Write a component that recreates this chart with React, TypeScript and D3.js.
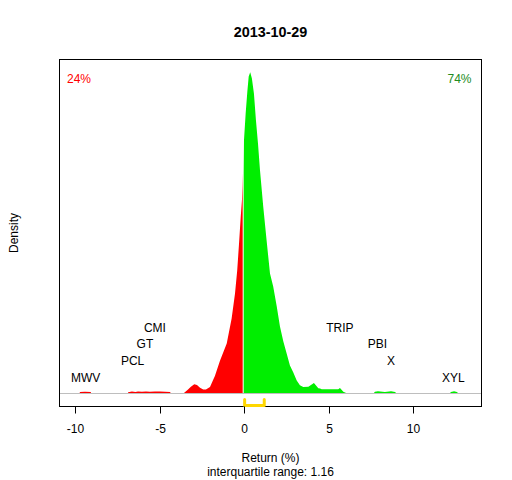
import * as d3 from "d3";

// density estimate of daily returns (x in %, density)
const gridX = [
  -10.02, -9.78, -9.73, -9.44, -9.1, -9.05, -6.92, -6.88, -6.66, -6.45, -6.3, -6.07, -5.83, -5.59, -5.3, -5.0, -4.7,
  -4.4, -4.35, -3.62, -3.58, -3.34, -3.17, -2.97, -2.81, -2.63, -2.44, -2.28, -2.04, -1.85, -1.75, -1.45, -1.05, -0.76,
  -0.56, -0.43, -0.33, -0.22, -0.15, -0.11, -0.03, 0.07, 0.17, 0.25, 0.34, 0.44, 0.56, 0.68, 0.8, 0.92, 1.11, 1.31,
  1.51, 1.7, 1.91, 2.1, 2.3, 2.5, 2.69, 2.89, 3.09, 3.28, 3.48, 3.78, 4.11, 4.37, 4.47, 4.57, 5.06, 5.55, 5.65, 5.85,
  6.11, 7.62, 7.72, 7.9, 8.31, 8.67, 8.91, 9.01, 12.12, 12.22, 12.4, 12.57, 12.68, 13.1,
];
const gridDensity = [
  0, 0, 0.003, 0.0034, 0.003, 0, 0, 0.0026, 0.0037, 0.0029, 0.0037, 0.0034, 0.0037, 0.0034, 0.0037, 0.0037, 0.0034,
  0.0029, 0, 0, 0.0009, 0.0069, 0.012, 0.0159, 0.0146, 0.0103, 0.0069, 0.0069, 0.0115, 0.024, 0.03, 0.0565, 0.0857,
  0.1285, 0.1713, 0.2107, 0.2535, 0.3032, 0.3306, 0.3563, 0.4334, 0.4796, 0.5173, 0.543, 0.55, 0.5396, 0.5139, 0.4676,
  0.4283, 0.382, 0.3203, 0.2621, 0.2056, 0.1833, 0.149, 0.1148, 0.0891, 0.0685, 0.048, 0.036, 0.0223, 0.0142, 0.0115,
  0.012, 0.0183, 0.0094, 0.0086, 0.0074, 0.0074, 0.0077, 0.0098, 0.0034, 0, 0, 0.0034, 0.004, 0.0029, 0.004, 0.0029,
  0, 0, 0.0029, 0.004, 0.0029, 0, 0,
];

// outliers labelled on the plot
const tickers = ["MWV", "PCL", "GT", "CMI", "TRIP", "PBI", "X", "XYL"];
const tickerReturns = [-9.4, -6.62, -5.89, -5.3, 5.65, 7.86, 8.67, 12.36];
const tickerLevels = [0, 1, 2, 3, 3, 2, 1, 0];

const xTicks = [-10, -5, 0, 5, 10];
const quartiles = [0.01, 1.17];
const title = "2013-10-29";
const pctDown = "24%";
const pctUp = "74%";
const iqrLabel = "interquartile range: 1.16";

const font = "'Liberation Sans', Arial, Helvetica, sans-serif";

export default function App() {
  const left = 59.5, right = 481.5, top = 59.5, bottom = 406.5;

  const xr = d3.extent(gridX) as [number, number];
  const xpad = (xr[1] - xr[0]) * 0.04;
  const x = d3.scaleLinear().domain([xr[0] - xpad, xr[1] + xpad]).range([left, right]);
  const ymax = d3.max(gridDensity) as number;
  const y = d3.scaleLinear().domain([-0.04 * ymax, 1.04 * ymax]).range([bottom, top]);

  const pts = gridX.map((v, i) => [v, gridDensity[i]] as [number, number]);
  const area = d3
    .area<[number, number]>()
    .x((d) => x(d[0]))
    .y0(y(0))
    .y1((d) => y(d[1]))(pts) as string;

  const split = x(0);
  const [q1, q3] = quartiles;

  return (
    <svg width={512} height={480} style={{ position: "absolute", left: 0, top: 0 }} fontFamily={font}>
      <rect width={512} height={480} fill="#fff" />
      <defs>
        <clipPath id="neg">
          <rect x={left} y={top} width={split - 1.8 - left} height={bottom - top} />
        </clipPath>
        <clipPath id="pos">
          <rect x={split - 0.8} y={top} width={right - split + 0.8} height={bottom - top} />
        </clipPath>
      </defs>
      <text x={(left + right) / 2} y={37} textAnchor="middle" fontWeight="bold" fontSize={14.4}>
        {title}
      </text>

      <path d={area} fill="#ff0000" clipPath="url(#neg)" />
      <path d={area} fill="#00ee00" clipPath="url(#pos)" />
      <line x1={left} x2={right} y1={393.5} y2={393.5} stroke="#bebebe" strokeWidth={1} />

      {tickers.map((t, i) => (
        <text key={t} x={x(tickerReturns[i])} y={y(0) - 12 - tickerLevels[i] * 16.7} textAnchor="middle" fontSize={12}>
          {t}
        </text>
      ))}

      <text x={67} y={82.7} fill="#ff0000" fontSize={12}>
        {pctDown}
      </text>
      <text x={471.5} y={82.7} fill="#228b22" fontSize={12} textAnchor="end">
        {pctUp}
      </text>

      <rect x={left} y={top} width={right - left} height={bottom - top} fill="none" stroke="#000" strokeWidth={1} />

      <path
        d={`M${x(q1)},399.5V405.5H${x(q3)}V399.5`}
        fill="none"
        stroke="#ffd700"
        strokeWidth={3}
        strokeLinecap="round"
        strokeLinejoin="round"
      />

      {xTicks.map((t) => (
        <g key={t} transform={`translate(${Math.round(x(t)) + 0.5},0)`}>
          <line y1={bottom} y2={bottom + 7} stroke="#000" />
          <text y={432.7} textAnchor="middle" fontSize={12}>
            {t}
          </text>
        </g>
      ))}

      <text x={(left + right) / 2} y={462} textAnchor="middle" fontSize={12}>
        Return (%)
      </text>
      <text x={(left + right) / 2} y={476} textAnchor="middle" fontSize={12}>
        {iqrLabel}
      </text>
      <text transform="translate(18.3,233) rotate(-90)" textAnchor="middle" fontSize={12}>
        Density
      </text>
    </svg>
  );
}
